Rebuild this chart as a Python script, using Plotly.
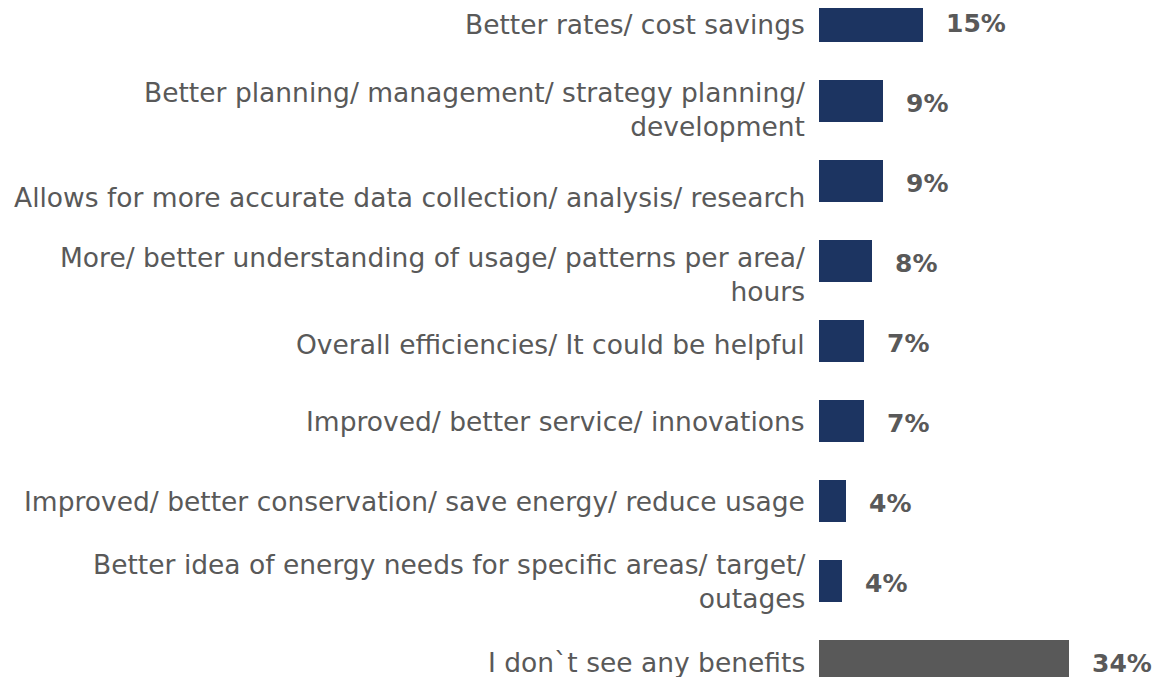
import plotly.graph_objects as go

categories = [
    "Better rates/ cost savings",
    "Better planning/ management/ strategy planning/<br>development",
    "Allows for more accurate data collection/ analysis/ research",
    "More/ better understanding of usage/ patterns per area/<br>hours",
    "Overall efficiencies/ It could be helpful",
    "Improved/ better service/ innovations",
    "Improved/ better conservation/ save energy/ reduce usage",
    "Better idea of energy needs for specific areas/ target/<br>outages",
    "I don`t see any benefits",
]
values = [14.5, 8.9, 8.9, 7.4, 6.3, 6.3, 3.8, 3.2, 34.7]
value_labels = ["15%", "9%", "9%", "8%", "7%", "7%", "4%", "4%", "34%"]

NAVY = "#1c3461"
GREY = "#595959"
colors = [NAVY] * 8 + [GREY]
# vertical nudges (px) for category label blocks
label_yshift = [-3, -8, -16, -13, -3, 0, 0, 0, -1]

ids = list(range(len(categories)))

fig = go.Figure(
    go.Bar(
        x=values,
        y=ids,
        orientation="h",
        marker=dict(color=colors, line=dict(width=0)),
        width=0.525,
        hoverinfo="skip",
    )
)

annotations = []
for i, (cat, v, lab) in enumerate(zip(categories, values, value_labels)):
    annotations.append(dict(
        xref="paper", x=0, y=i, yref="y",
        text=cat, showarrow=False, xanchor="right", yanchor="middle",
        align="right", xshift=-12, yshift=label_yshift[i],
        font=dict(family="DejaVu Sans", size=26.5, color=GREY),
    ))
    annotations.append(dict(
        x=v, y=i, xref="x", yref="y",
        text="<b>%s</b>" % lab, showarrow=False, xanchor="left", yanchor="middle",
        xshift=21, yshift=-2,
        font=dict(family="DejaVu Sans", size=25, color=GREY),
    ))

fig.update_layout(
    width=1166, height=669,
    margin=dict(l=811, r=0, t=0, b=0),
    paper_bgcolor="white", plot_bgcolor="white",
    showlegend=False,
    xaxis=dict(range=[0, 49.3], visible=False, fixedrange=True),
    yaxis=dict(range=[8.2, -0.1625], visible=False, fixedrange=True),
    annotations=annotations,
    bargap=0,
)

fig.write_html("out.html")
